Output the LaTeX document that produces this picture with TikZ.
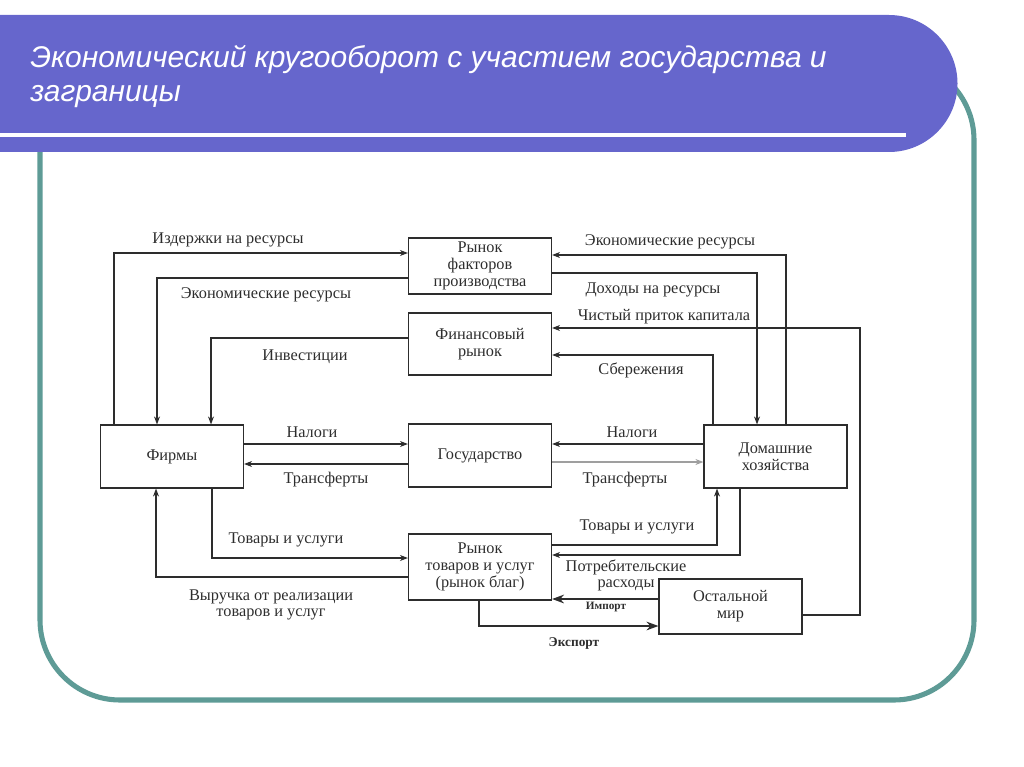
\documentclass[tikz,border=0pt]{standalone}
\usepackage{fontspec}
\setmainfont{Liberation Serif}
\newfontfamily\titlefont{Liberation Sans}
\usetikzlibrary{arrows.meta, calc}
\definecolor{bannerblue}{RGB}{102,102,204}
\definecolor{frameteal}{RGB}{94,155,150}
\definecolor{inkgray}{RGB}{45,45,45}
\tikzstyle{block} = [rectangle, draw=inkgray, line width=0.8pt, minimum width=3.575cm, align=center, text=inkgray, inner sep=0pt, font=\fontsize{11.6}{11.9}\selectfont]
\tikzstyle{flowlabel} = [align=center, text=inkgray, inner sep=0pt, font=\fontsize{11.6}{11.9}\selectfont]
\tikzstyle{tradelabel} = [text=inkgray, inner sep=0pt, font=\bfseries\fontsize{8}{9}\selectfont]
\tikzstyle{flow} = [draw=inkgray, line width=0.8pt, -{Stealth[length=2mm, width=1.5mm]}]
\tikzstyle{tradeflow} = [draw=inkgray, line width=0.9pt, -{Stealth[length=3mm, width=2.2mm]}]
\begin{document}
\begin{tikzpicture}[x=0.025cm, y=-0.025cm]
\useasboundingbox (0,0) rectangle (1024,767);
% frame and title banner
\draw[frameteal, line width=3.6pt, rounded corners=2cm] (40,60) rectangle (974,700);
\fill[bannerblue] (0,15) -- (889,15) .. controls (927,15) and (957.5,46) .. (957.5,83.5) .. controls (957.5,121) and (927,152) .. (889,152) -- (0,152) -- cycle;
\fill[white] (0,133) rectangle (906,137);
\node (title1) [anchor=base west, text=white, inner sep=0pt, font=\titlefont\itshape\fontsize{21.3}{24}\selectfont] at (30,68) {Экономический кругооборот с участием государства и};
\node (title2) [anchor=base west, text=white, inner sep=0pt, font=\titlefont\itshape\fontsize{21.3}{24}\selectfont] at (30,102) {заграницы};
% boxes
\node (factor) [block, minimum height=1.4cm] at (480,266) {Рынок\\факторов\\производства};
\node (fin) [block, minimum height=1.55cm] at (480,344) {Финансовый\\рынок};
\node (firms) [block, minimum height=1.575cm] at (172,456.5) {Фирмы};
\node (state) [block, minimum height=1.575cm] at (480,455.5) {Государство};
\node (hh) [block, minimum height=1.575cm] at (775.5,456.5) {Домашние\\хозяйства};
\node (goods) [block, minimum height=1.65cm] at (480,567) {Рынок\\товаров и услуг\\(рынок благ)};
\node (world) [block, minimum height=1.375cm] at (730.5,606.5) {Остальной\\мир};
% left side flows
\draw[flow] (114,0 |- firms.north) |- (factor.west |- 0,253);
\draw[flow] (factor.west |- 0,278) -| (157,0 |- firms.north);
\draw[flow] (fin.west |- 0,338) -| (211,0 |- firms.north);
\draw[flow] (firms.east |- 0,444) -- (state.west |- 0,444);
\draw[flow] (state.west |- 0,464) -- (firms.east |- 0,464);
\draw[flow] (212,0 |- firms.south) |- (goods.west |- 0,558);
\draw[flow] (goods.west |- 0,577) -| (156,0 |- firms.south);
% right side flows
\draw[flow] (786,0 |- hh.north) |- (factor.east |- 0,255);
\draw[flow] (factor.east |- 0,273) -| (757,0 |- hh.north);
\draw[flow] (world.east |- 0,615) -| (860,328) -- (fin.east |- 0,328);
\draw[flow] (713,0 |- hh.north) |- (fin.east |- 0,355);
\draw[flow] (hh.west |- 0,444) -- (state.east |- 0,444);
\draw[flow, draw=gray!75] (state.east |- 0,462) -- (hh.west |- 0,462);
\draw[flow] (goods.east |- 0,545) -| (717,0 |- hh.south);
\draw[flow] (740,0 |- hh.south) |- (goods.east |- 0,555);
\draw[tradeflow] (world.west |- 0,599) -- (goods.east |- 0,599);
\draw[tradeflow] (479,0 |- goods.south) |- (world.west |- 0,626);
% labels
\node (lcost) [flowlabel] at (228,240) {Издержки на ресурсы};
\node (lresl) [flowlabel] at (266,295) {Экономические ресурсы};
\node (linv) [flowlabel] at (305,357) {Инвестиции};
\node (ltaxl) [flowlabel] at (312,432) {Налоги};
\node (ltrl) [flowlabel] at (326,480) {Трансферты};
\node (lgoodsl) [flowlabel] at (286,540) {Товары и услуги};
\node (lrev) [flowlabel] at (271,605) {Выручка от реализации\\товаров и услуг};
\node (lresr) [flowlabel] at (670,242) {Экономические ресурсы};
\node (linc) [flowlabel] at (653,290) {Доходы на ресурсы};
\node (lcap) [flowlabel] at (664,317) {Чистый приток капитала};
\node (lsav) [flowlabel] at (641,370) {Сбережения};
\node (ltaxr) [flowlabel] at (632,432) {Налоги};
\node (ltrr) [flowlabel] at (625,480) {Трансферты};
\node (lgoodsr) [flowlabel] at (637,527) {Товары и услуги};
\node (lcons) [flowlabel] at (626,575.5) {Потребительские\\расходы};
\node (limp) [tradelabel] at (606,607) {Импорт};
\node (lexp) [tradelabel, font=\bfseries\fontsize{9.5}{10}\selectfont] at (574,643) {Экспорт};
\end{tikzpicture}
\end{document}
